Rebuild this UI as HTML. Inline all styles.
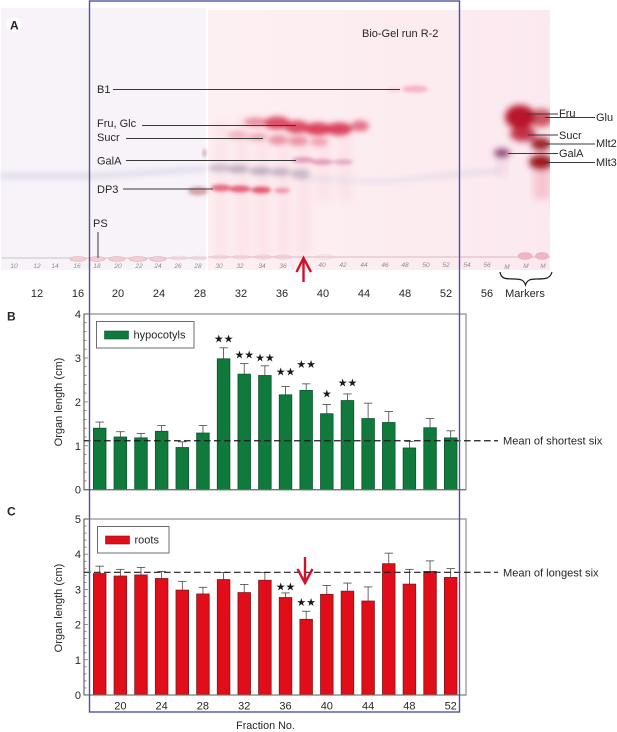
<!DOCTYPE html>
<html lang="en">
<head>
<meta charset="utf-8">
<title>Bio-Gel run R-2 fractions and organ length</title>
<style>
html,body{margin:0;padding:0;background:#fff;width:617px;height:732px;overflow:hidden}
svg{display:block}
text{font-family:"Liberation Sans","DejaVu Sans",sans-serif;fill:#262626}
</style>
</head>
<body>
<svg id="fig" xmlns="http://www.w3.org/2000/svg" width="617" height="732" viewBox="0 0 617 732">
<defs>
<filter id="b1" x="-40%" y="-150%" width="180%" height="400%"><feGaussianBlur stdDeviation="2.6"/></filter>
<filter id="b2" x="-60%" y="-60%" width="220%" height="220%"><feGaussianBlur stdDeviation="3.2"/></filter>
<filter id="b3" x="-30%" y="-150%" width="160%" height="400%"><feGaussianBlur stdDeviation="1.9"/></filter>
<filter id="b4" x="-30%" y="-30%" width="160%" height="160%"><feGaussianBlur stdDeviation="4"/></filter>
<clipPath id="gelclip"><rect x="208" y="10" width="342" height="260"/></clipPath>
<linearGradient id="rightgel" x1="0" x2="1" y1="0" y2="0"><stop offset="0" stop-color="#fdf0f2"/><stop offset=".6" stop-color="#fcecf0"/><stop offset="1" stop-color="#fbe9ef"/></linearGradient>
</defs>

<g id="gel">
  <rect x="1" y="8" width="205" height="262" fill="#f8f3f9"/>
  <rect x="208" y="10" width="342" height="260" fill="url(#rightgel)"/>
  <g clip-path="url(#gelclip)" filter="url(#b4)" fill="#f9cdd8" opacity=".3">
    <rect x="214" y="120" width="14" height="138"/><rect x="235" y="118" width="14" height="140"/><rect x="256" y="118" width="14" height="140"/><rect x="277" y="115" width="14" height="143"/><rect x="297" y="118" width="14" height="140"/><rect x="317" y="122" width="14" height="80"/><rect x="338" y="122" width="14" height="80"/>
  </g>
  <g filter="url(#b1)" fill="#cfcbe4" opacity=".55">
    <path d="M0 173 L100 173 L205 166 L205 172 L100 179 L0 179Z"/>
    <path d="M300 176 L380 180 L470 170 L500 168 L500 174 L470 176 L380 184 L300 180Z" opacity=".75"/>
  </g>
  <g filter="url(#b3)"><ellipse cx="415" cy="89" rx="13" ry="3.500" fill="#f7b3c2"/><ellipse cx="394" cy="90" rx="7" ry="2.500" fill="#fad6dd"/></g>
  <g filter="url(#b1)" fill="#d8314f">
    <ellipse cx="255" cy="122" rx="11" ry="4.500" opacity=".5"/><ellipse cx="277" cy="123" rx="13" ry="6.500" opacity=".85"/><ellipse cx="297" cy="127" rx="12" ry="6.500" opacity=".85"/><ellipse cx="318" cy="129" rx="13" ry="6.500" opacity=".9"/><ellipse cx="339" cy="129" rx="13" ry="6.500" opacity=".9"/><ellipse cx="360" cy="126" rx="9" ry="5.500" opacity=".65"/>
  </g>
  <g filter="url(#b1)" fill="#df4f6c">
    <ellipse cx="237" cy="135" rx="10" ry="3.500" opacity=".4"/><ellipse cx="257" cy="137" rx="10" ry="3.500" opacity=".45"/><ellipse cx="278" cy="140" rx="10" ry="5" opacity=".55"/><ellipse cx="298" cy="141" rx="10" ry="5" opacity=".55"/><ellipse cx="319" cy="142" rx="9" ry="4.500" opacity=".45"/>
  </g>
  <g filter="url(#b3)" fill="#cf6090">
    <ellipse cx="303" cy="160" rx="11" ry="3" opacity=".55"/><ellipse cx="322" cy="162" rx="11" ry="3" opacity=".55"/><ellipse cx="343" cy="162" rx="10" ry="2.600" opacity=".45"/>
  </g>
  <g filter="url(#b1)" fill="#9c90ab">
    <ellipse cx="219" cy="168" rx="11" ry="3.500" opacity=".55"/><ellipse cx="238" cy="169" rx="11" ry="4" opacity=".65"/><ellipse cx="260" cy="171" rx="11" ry="4" opacity=".65"/><ellipse cx="280" cy="172" rx="10" ry="4" opacity=".6"/><ellipse cx="300" cy="174" rx="10" ry="5" opacity=".5"/>
  </g>
  <g filter="url(#b3)" fill="#e1425f">
    <ellipse cx="198" cy="191" rx="10" ry="4.500" fill="#c98a8a" opacity=".75"/><ellipse cx="221" cy="188" rx="10" ry="3.500" opacity=".75"/><ellipse cx="240" cy="189" rx="11" ry="3.500" opacity=".8"/><ellipse cx="261" cy="190" rx="10" ry="3.500" opacity=".85"/><ellipse cx="282" cy="190.500" rx="8" ry="2.600" opacity=".5"/>
  </g>
  <ellipse cx="204.500" cy="153" rx="1.800" ry="4" fill="#c9a0aa" filter="url(#b3)"/>
  <g clip-path="url(#gelclip)">
    <rect x="534" y="165" width="16" height="34" fill="#f2a3b3" opacity=".55" filter="url(#b4)"/>
    <rect x="497" y="158" width="10" height="18" fill="#e7c6d6" opacity=".45" filter="url(#b4)"/>
    <g filter="url(#b2)">
      <ellipse cx="541" cy="118" rx="12" ry="9" fill="#c63a48" opacity=".85"/>
      <ellipse cx="520" cy="117" rx="15" ry="12" fill="#b8142c"/>
      <ellipse cx="523" cy="134" rx="13" ry="7.500" fill="#bc2038" opacity=".9"/>
      <ellipse cx="541" cy="144" rx="10" ry="6.500" fill="#9c2029"/>
      <ellipse cx="541" cy="162" rx="12" ry="7" fill="#9c141f"/>
      <ellipse cx="502" cy="153" rx="8" ry="4.500" fill="#8c3f76"/>
    </g>
  </g>
  <line x1="2" y1="258" x2="206" y2="258" stroke="#b9b0b6" stroke-width=".7"/>
  <line x1="208" y1="257" x2="550" y2="257" stroke="#c9aab2" stroke-width=".7"/>
  <g fill="#f4ccd4" stroke="#dcaab6" stroke-width=".6">
    <ellipse cx="78" cy="259" rx="8" ry="2.500"/><ellipse cx="97" cy="259" rx="8" ry="2.500"/><ellipse cx="117" cy="259" rx="8" ry="2.500"/><ellipse cx="138" cy="259" rx="9" ry="2.500"/><ellipse cx="158" cy="259" rx="8" ry="2.500"/>
    <ellipse cx="179" cy="258" rx="8" ry="2" opacity=".4"/><ellipse cx="199" cy="258" rx="8" ry="2" opacity=".4"/><ellipse cx="220" cy="257" rx="8" ry="2" opacity=".4"/><ellipse cx="241" cy="257" rx="8" ry="2" opacity=".4"/><ellipse cx="263" cy="257" rx="8" ry="2.200" opacity=".5"/><ellipse cx="283" cy="257" rx="8" ry="2.200" opacity=".5"/><ellipse cx="325" cy="257" rx="9" ry="2.500" opacity=".3"/>
    <ellipse cx="525" cy="256" rx="7" ry="3.500" fill="#f2b5c4"/><ellipse cx="542" cy="256" rx="6.500" ry="3.500" fill="#f2b5c4"/>
  </g>
  <g font-size="6.500" font-style="italic" text-anchor="middle" style="opacity:.5">
    <text x="14" y="268">10</text><text x="37" y="268">12</text><text x="55" y="268">14</text><text x="77" y="268">16</text><text x="97" y="268">18</text><text x="118" y="268">20</text><text x="139" y="268">22</text><text x="158" y="268">24</text><text x="178" y="268">26</text><text x="198" y="268">28</text><text x="219" y="268">30</text><text x="240" y="268">32</text><text x="262" y="268">34</text><text x="283" y="268">36</text><text x="322" y="267">40</text><text x="343" y="267">42</text><text x="364" y="267">44</text><text x="385" y="267">46</text><text x="405" y="267">48</text><text x="426" y="267">50</text><text x="446" y="267">52</text><text x="467" y="267">54</text><text x="487" y="267">56</text><text x="507" y="269">M</text><text x="526" y="268">M</text><text x="543" y="268">M</text>
  </g>
</g>

<g stroke="#3a3a3a" stroke-width="1">
  <line x1="113" y1="89.500" x2="400" y2="89.500"/>
  <line x1="142" y1="125.500" x2="296" y2="125.500"/>
  <line x1="126" y1="138.500" x2="263" y2="138.500"/>
  <line x1="126" y1="160.500" x2="296" y2="160.500"/>
  <line x1="123" y1="189" x2="213" y2="189"/>
  <line x1="98" y1="232" x2="98" y2="258"/>
  <line x1="527" y1="114" x2="558" y2="114"/>
  <line x1="545" y1="117.500" x2="595" y2="117.500"/>
  <line x1="528" y1="135" x2="558" y2="135"/>
  <line x1="545" y1="144" x2="595" y2="144"/>
  <line x1="508" y1="153.500" x2="558" y2="153.500"/>
  <line x1="545" y1="162.500" x2="595" y2="162.500"/>
</g>
<g font-size="11">
  <text x="97" y="93">B1</text>
  <text x="97" y="127">Fru, Glc</text>
  <text x="97" y="141">Sucr</text>
  <text x="97" y="164.500">GalA</text>
  <text x="97" y="193">DP3</text>
  <text x="93" y="227">PS</text>
  <text x="362" y="37">Bio-Gel run R-2</text>
  <text x="559" y="117">Fru</text>
  <text x="596" y="121">Glu</text>
  <text x="559" y="139">Sucr</text>
  <text x="596" y="147">Mlt2</text>
  <text x="559" y="157">GalA</text>
  <text x="596" y="166">Mlt3</text>
</g>
<g font-size="11" text-anchor="middle">
  <text x="37" y="297">12</text><text x="78" y="297">16</text><text x="118" y="297">20</text><text x="159" y="297">24</text><text x="200" y="297">28</text><text x="241" y="297">32</text><text x="282" y="297">36</text><text x="323" y="297">40</text><text x="364" y="297">44</text><text x="405" y="297">48</text><text x="446" y="297">52</text><text x="487" y="297">56</text>
</g>
<text x="525" y="297" font-size="11" text-anchor="middle">Markers</text>
<path d="M500 272 C501 279 506 279 514 279 C521 279 524 280 525.500 285 C527 280 530 279 537 279 C545 279 550 279 552 272" fill="none" stroke="#1d1d1d" stroke-width="1.200"/>
<path d="M303.500 282 V258 M296.500 272 L303.500 258 L311 272" fill="none" stroke="#cc1528" stroke-width="2.400"/>

<g id="chart-b"></g>
<g id="chart-c"></g>

<path d="M305 557 V582 M297.500 569 L305 583 L312.500 569" fill="none" stroke="#cc1528" stroke-width="2.400"/>
<rect x="89.500" y="1" width="370" height="711" fill="none" stroke="#51529f" stroke-width="1.400"/>

<circle cx="14" cy="25" r="7.500" fill="#fff"/>
<text x="10" y="29.500" font-size="12" font-weight="bold" fill="#111">A</text>
<text x="7" y="320.500" font-size="12" font-weight="bold" fill="#111">B</text>
<text x="7" y="515.500" font-size="12" font-weight="bold" fill="#111">C</text>
<text x="265.500" y="729" font-size="10.800" text-anchor="middle">Fraction No.</text>
</svg>

<script>
const fractions = [18,20,22,24,26,28,30,32,34,36,38,40,42,44,46,48,50,52];
const xTickLabels = [20,24,28,32,36,40,44,48,52];
const hypocotylValues = [1.40,1.20,1.18,1.33,0.96,1.29,2.98,2.63,2.60,2.16,2.26,1.73,2.03,1.62,1.53,0.95,1.41,1.18];
const hypocotylErrors = [0.14,0.12,0.10,0.13,0.13,0.17,0.25,0.24,0.22,0.19,0.15,0.21,0.15,0.35,0.25,0.15,0.21,0.16];
const hypocotylStars = {30:2,32:2,34:2,36:2,38:2,40:1,42:2};
const hypocotylStarGap = {30:0.24,32:0.23,34:0.21,36:0.36,38:0.47,40:0.27,42:0.28};
const hypocotylTicks = [0,1,2,3,4];
const hypocotylMean = 1.115;
const rootValues = [3.45,3.38,3.41,3.31,2.98,2.87,3.28,2.91,3.26,2.77,2.15,2.86,2.95,2.67,3.73,3.15,3.51,3.34];
const rootErrors = [0.21,0.19,0.21,0.20,0.25,0.19,0.20,0.23,0.22,0.13,0.23,0.25,0.23,0.40,0.30,0.42,0.30,0.25];
const rootStars = {36:2,38:2};
const rootStarGap = {36:0.21,38:0.29};
const rootTicks = [0,1,2,3,4,5];
const rootMean = 3.486;

const NS = 'http://www.w3.org/2000/svg';
function mk(parent, tag, props, txt) {
  const el = document.createElementNS(NS, tag);
  for (const k in props) el.setAttribute(k, props[k]);
  if (txt !== undefined) el.textContent = txt;
  parent.appendChild(el);
  return el;
}
const plotLeft = 84, plotRight = 466, firstBarX = 99.7, lastBarX = 450.7;
function xScale(fraction) {
  const lo = fractions[0], hi = fractions[fractions.length - 1];
  return firstBarX + (fraction - lo) / (hi - lo) * (lastBarX - firstBarX);
}
function drawPanel(g, o) {
  const yMax = o.ticks[o.ticks.length - 1];
  const y = v => o.bottom - v / yMax * (o.bottom - o.top);

  const frame = mk(g, 'rect', {x: plotLeft, y: o.top, width: plotRight - plotLeft, height: o.bottom - o.top, fill: 'none', stroke: '#8d8d8d', 'stroke-width': 1.2});
  
  

  for (let v = 0; v <= yMax + 1e-6; v += 0.2) {
    const major = Math.abs(v - Math.round(v)) < 1e-6;
    const tick = mk(g, 'line', {x1: plotLeft, x2: plotLeft + (major ? 4 : 2.6), y1: y(v), y2: y(v), stroke: '#666', 'stroke-width': .7});
    
    
  }
  o.ticks.forEach(t => {
    const lab = mk(g, 'text', {x: 81, y: y(t) + 4, 'font-size': 11, 'text-anchor': 'end'}, String(t));
    
    
  });
  const title = mk(g, 'text', {x: 0, y: 0, 'font-size': 11, 'text-anchor': 'middle', transform: 'translate(62 ' + o.titleY + ') rotate(-90)'}, 'Organ length (cm)');
  
  

  fractions.forEach((f, i) => {
    const cx = xScale(f), top = y(o.values[i]), errTop = y(o.values[i] + o.errors[i]);
    const stem = mk(g, 'line', {x1: cx, x2: cx, y1: top, y2: errTop, stroke: '#444', 'stroke-width': .8});
    
    
    const cap = mk(g, 'line', {x1: cx - 4.2, x2: cx + 4.2, y1: errTop, y2: errTop, stroke: '#444', 'stroke-width': .8});
    
    
    const bar = mk(g, 'rect', {x: cx - 6.3, y: top, width: 12.6, height: o.bottom - top, fill: o.fill, stroke: o.edge, 'stroke-width': .8});
    
    
    if (o.stars[f]) {
      const starY = y(o.values[i] + o.errors[i] + o.starGap[f]);
      const star = mk(g, 'text', {x: cx, y: starY + 5, 'font-size': 11, 'text-anchor': 'middle', 'letter-spacing': '-.1', fill: '#1a1a1a', style: 'font-family:"DejaVu Sans",sans-serif;fill:#1a1a1a'}, '★'.repeat(o.stars[f]));
      
      
    }
  });

  const base = mk(g, 'line', {x1: plotLeft, x2: plotRight, y1: o.bottom, y2: o.bottom, stroke: '#6f6f6f', 'stroke-width': 1.1});
  
  
  const axis = mk(g, 'line', {x1: plotLeft, x2: plotLeft, y1: o.top, y2: o.bottom, stroke: '#555', 'stroke-width': .8});
  
  

  const mean = mk(g, 'line', {x1: plotLeft, x2: 498, y1: y(o.mean), y2: y(o.mean), stroke: '#1c1c1c', 'stroke-width': 1.2, 'stroke-dasharray': '6.6 3.4'});
  
  
  const meanLab = mk(g, 'text', {x: 503, y: y(o.mean) + 4, 'font-size': 11.1}, o.meanLabel);
  
  

  const box = mk(g, 'rect', {x: o.legX, y: o.top + 7.5, width: o.legW, height: 26.5, fill: '#fff', stroke: '#6d6d6d', 'stroke-width': 1});
  
  
  const swatch = mk(g, 'rect', {x: o.legX + 8, y: o.top + 17, width: 24, height: 8, fill: o.fill, stroke: o.edge, 'stroke-width': .6});
  
  
  const legText = mk(g, 'text', {x: o.legX + 37, y: o.top + 24.5, 'font-size': 11}, o.legend);
  
  
}

drawPanel(document.getElementById('chart-b'), {
  top: 314, bottom: 489.7, titleY: 402, ticks: hypocotylTicks,
  values: hypocotylValues, errors: hypocotylErrors, stars: hypocotylStars, starGap: hypocotylStarGap,
  mean: hypocotylMean, meanLabel: 'Mean of shortest six',
  fill: '#0f7a3c', edge: '#0d5430', legend: 'hypocotyls', legX: 96.5, legW: 97.5
});
drawPanel(document.getElementById('chart-c'), {
  top: 519, bottom: 695, titleY: 608, ticks: rootTicks,
  values: rootValues, errors: rootErrors, stars: rootStars, starGap: rootStarGap,
  mean: rootMean, meanLabel: 'Mean of longest six',
  fill: '#e10d18', edge: '#7d1a1e', legend: 'roots', legX: 97.5, legW: 71.5
});

const chartC = document.getElementById('chart-c');
xTickLabels.forEach(f => {
  const lab = mk(chartC, 'text', {x: xScale(f), y: 709.5, 'font-size': 11, 'text-anchor': 'middle'}, String(f));
  
  
});
</script>
</body>
</html>
